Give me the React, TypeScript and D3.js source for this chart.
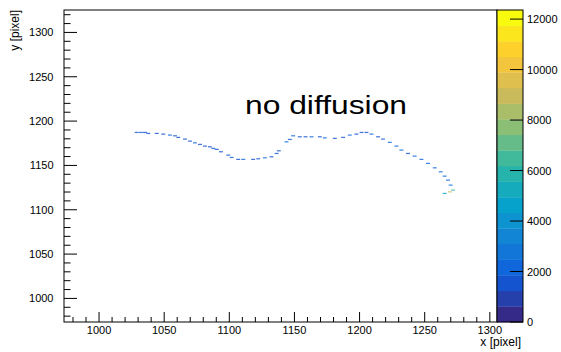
import React from 'react';
import * as d3 from 'd3';

const xMajor = [1000, 1050, 1100, 1150, 1200, 1250, 1300];
const yMajor = [1000, 1050, 1100, 1150, 1200, 1250, 1300];
const zMajor = [0, 2000, 4000, 6000, 8000, 10000, 12000];

const ptX = [1028.9, 1032.2, 1035.3, 1037.8, 1044.3, 1049.3, 1054.4, 1058.3, 1060.8, 1066.0, 1069.8, 1073.6, 1077.5, 1081.3, 1085.1, 1087.7, 1090.3, 1093.6, 1099.2, 1101.8, 1106.8, 1110.7, 1118.3, 1122.2, 1127.3, 1132.4, 1136.3, 1138.0, 1143.9, 1146.5, 1149.0, 1154.1, 1158.5, 1163.1, 1169.5, 1173.3, 1181.0, 1187.4, 1192.5, 1197.6, 1201.5, 1205.3, 1209.1, 1214.2, 1218.0, 1223.2, 1228.3, 1232.1, 1237.2, 1242.3, 1247.5, 1252.5, 1257.7, 1262.3, 1265.3, 1267.9, 1269.9, 1271.7, 1269.2, 1265.3];
const ptY = [1187.2, 1187.2, 1187.2, 1186.1, 1186.1, 1185.3, 1184.2, 1183.4, 1181.6, 1179.7, 1177.4, 1175.5, 1173.7, 1171.8, 1171.0, 1169.2, 1168.1, 1165.4, 1161.6, 1159.0, 1156.8, 1156.8, 1156.8, 1157.5, 1158.6, 1159.7, 1163.5, 1166.5, 1176.6, 1179.3, 1183.4, 1182.3, 1182.3, 1182.3, 1182.3, 1181.1, 1180.5, 1181.6, 1184.2, 1185.3, 1187.2, 1187.2, 1185.3, 1182.3, 1179.7, 1176.0, 1171.8, 1167.3, 1163.5, 1160.5, 1156.8, 1152.3, 1147.3, 1142.8, 1137.9, 1133.4, 1127.8, 1122.2, 1120.2, 1118.4];
const ptZ = [1500, 1900, 1700, 1300, 1800, 1600, 1900, 1500, 1700, 1800, 1600, 1900, 1700, 1800, 1500, 2000, 1700, 1800, 1600, 1900, 1700, 2000, 1800, 1600, 1900, 1700, 1800, 1600, 1900, 1700, 2000, 1800, 1700, 1900, 1800, 2000, 1700, 1800, 1900, 1600, 1800, 1700, 1900, 1800, 1600, 1900, 2000, 2100, 1800, 1900, 2200, 2000, 2300, 2100, 2400, 2200, 2700, 6200, 9200, 4600];

const zMax = 12360;
const nBands = 20;

const birdPos = [0, 0.125, 0.25, 0.375, 0.5, 0.625, 0.75, 0.875, 1];
const birdR = [0.2082, 0.0592, 0.078, 0.0232, 0.1802, 0.5301, 0.8186, 0.9956, 0.9764];
const birdG = [0.1664, 0.3599, 0.5041, 0.6419, 0.7178, 0.7492, 0.7328, 0.7862, 0.9832];
const birdB = [0.5293, 0.8684, 0.8385, 0.7914, 0.6425, 0.4662, 0.3499, 0.1968, 0.0539];

const W = 561;
const H = 352;
const L = 64;
const R = 497;
const T = 10;
const B = 322;
const PAL_L = 497;
const PAL_R = 523;

const FONT = 'Liberation Sans, Arial, Helvetica, sans-serif';

export default function App() {
  const x = d3.scaleLinear().domain([973.1, 1305.5]).range([L, R]);
  const y = d3.scaleLinear().domain([973.4, 1325.3]).range([B, T]);
  const z = d3.scaleLinear().domain([0, zMax]).range([B, T]);

  const bird = d3
    .scaleLinear<string>()
    .domain(birdPos)
    .range(birdPos.map((_, i) => d3.rgb(birdR[i] * 255, birdG[i] * 255, birdB[i] * 255).toString()))
    .interpolate(d3.interpolateRgb);

  const bandColor = (i: number) => bird(i / (nBands - 1));
  const cellColor = (v: number) => bandColor(Math.min(nBands - 1, Math.floor((v / zMax) * nBands)));

  const xMinor = d3.range(980, 1306, 10).filter((v) => !xMajor.includes(v));
  const yMinor = d3.range(980, 1325, 10).filter((v) => !yMajor.includes(v));

  const bands = d3.range(nBands).map((i) => ({
    y0: z((i * zMax) / nBands),
    y1: z(((i + 1) * zMax) / nBands),
    c: bandColor(i),
  }));

  const cw = 3.0;
  const ch = 1.4;

  return (
    <svg width={W} height={H} style={{ position: 'absolute', left: 0, top: 0, background: '#fff' }} fontFamily={FONT}>
      <rect x={0} y={0} width={W} height={H} fill="#fff" />
      <g>
        {ptX.map((px, i) => (
          <rect
            key={i}
            x={x(px - cw / 2)}
            y={y(ptY[i] + ch / 2)}
            width={x(px + cw / 2) - x(px - cw / 2)}
            height={y(ptY[i] - ch / 2) - y(ptY[i] + ch / 2)}
            fill={cellColor(ptZ[i])}
            opacity={0.8}
          />
        ))}
      </g>
      <rect x={L} y={T} width={R - L} height={B - T} fill="none" stroke="#000" strokeWidth={1} />
      <g stroke="#000" strokeWidth={1}>
        {xMajor.map((v) => (
          <line key={'xm' + v} x1={x(v)} x2={x(v)} y1={B} y2={B - 10} />
        ))}
        {xMinor.map((v) => (
          <line key={'xn' + v} x1={x(v)} x2={x(v)} y1={B} y2={B - 5} />
        ))}
        {yMajor.map((v) => (
          <line key={'ym' + v} x1={L} x2={L + 13} y1={y(v)} y2={y(v)} />
        ))}
        {yMinor.map((v) => (
          <line key={'yn' + v} x1={L} x2={L + 6.5} y1={y(v)} y2={y(v)} />
        ))}
      </g>
      <g fontSize={11} fill="#000">
        {xMajor.map((v) => (
          <text key={'xl' + v} x={x(v)} y={334} textAnchor="middle">
            {v}
          </text>
        ))}
        {yMajor.map((v) => (
          <text key={'yl' + v} x={53.5} y={y(v) + 4} textAnchor="end">
            {v}
          </text>
        ))}
        <text x={521} y={346} textAnchor="end" fontSize={12}>
          x [pixel]
        </text>
        <text transform={`translate(19,${T}) rotate(-90)`} textAnchor="end" fontSize={12}>
          y [pixel]
        </text>
      </g>
      <g>
        {bands.map((b, i) => (
          <rect key={'b' + i} x={PAL_L} y={b.y1} width={PAL_R - PAL_L} height={b.y0 - b.y1 + 0.3} fill={b.c} />
        ))}
        <rect x={PAL_L} y={T} width={PAL_R - PAL_L} height={B - T} fill="none" stroke="#000" strokeWidth={1} />
        {zMajor.map((v) => (
          <line key={'zt' + v} x1={PAL_R} x2={PAL_R - 13} y1={z(v)} y2={z(v)} stroke="#000" strokeWidth={1} />
        ))}
        {zMajor.map((v) => (
          <text key={'zl' + v} x={527} y={z(v) + 4} fontSize={11} fill="#000">
            {v}
          </text>
        ))}
      </g>
      <text x={245} y={114} fontSize={25} fill="#000" textLength={162} lengthAdjust="spacingAndGlyphs">
        no diffusion
      </text>
    </svg>
  );
}
